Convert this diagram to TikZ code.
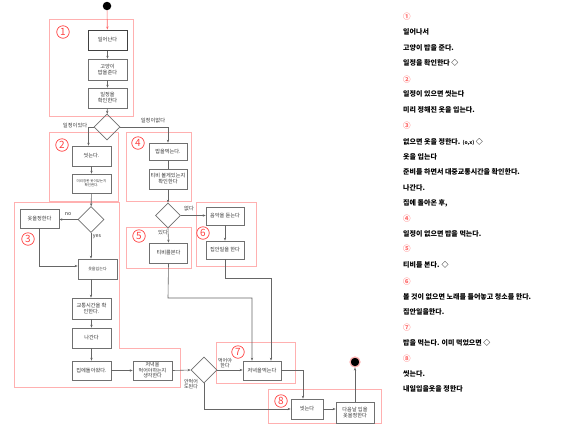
\documentclass[tikz,border=0pt]{standalone}
\usepackage{fontspec}
\setmainfont{Noto Sans CJK KR}
\usetikzlibrary{arrows.meta,shapes.geometric}
\definecolor{grpc}{HTML}{FFB0B0}
\definecolor{numc}{HTML}{FF4040}
\definecolor{listnum}{HTML}{FF6B6B}
\definecolor{edgec}{HTML}{666666}
\definecolor{boxc}{HTML}{707070}
\tikzset{
  box/.style={draw=boxc, line width=0.7pt, fill=white, inner sep=0pt, align=center,
    font=\fontsize{5.2}{6}\selectfont, text=black!80},
  dia/.style={draw=boxc, line width=0.7pt, diamond, aspect=1, inner sep=0pt, minimum width=26, minimum height=26},
  conn/.style={draw=edgec, line width=0.6pt, -{Stealth[length=3pt,width=2.4pt]}},
  plain/.style={draw=edgec, line width=0.6pt},
  grp/.style={draw=grpc, line width=0.8pt},
  num/.style={draw=numc, circle, line width=0.7pt, text=numc, inner sep=0pt, minimum size=12.5,
    font=\fontsize{10}{10}\selectfont},
  lbl/.style={font=\fontsize{5.3}{6}\selectfont, text=black!80, inner sep=0.5pt, align=center},
  item/.style={anchor=west, font=\fontsize{7}{8}\selectfont\bfseries, text=black, inner sep=0pt},
  inum/.style={anchor=west, font=\fontsize{7.5}{8}\selectfont\bfseries, text=listnum, inner sep=0pt}
}
\begin{document}
\begin{tikzpicture}[x=1pt,y=-1pt]
\useasboundingbox (0,0) rectangle (567,424);
% groups
\draw[grp] (49,19) rectangle (133,116);
\draw[grp] (49,132) rectangle (118,201);
\draw[grp] (14,202) -- (119,202) -- (119,348) -- (180,348) -- (180,387) -- (14,387) -- cycle;
\draw[grp] (126,132) rectangle (191,201);
\draw[grp] (126,227) rectangle (191,268);
\draw[grp] (196,202) rectangle (256,266);
\draw[grp] (216,342) rectangle (295,383);
\draw[grp] (268,389) rectangle (381,423);
\node[num] (n1) at (63,32) {1};
\node[num] (n2) at (62,145) {2};
\node[num] (n3) at (28,239) {3};
\node[num] (n4) at (138,143) {4};
\node[num] (n5) at (139,236) {5};
\node[num] (n6) at (203,233) {6};
\node[num] (n7) at (238,352) {7};
\node[num] (n8) at (281,401) {8};
% start / end
\node[circle, fill=black, minimum size=8.5, inner sep=0pt] (start) at (107,6) {};
\node[circle, fill=black, draw=grpc, line width=1.2pt, minimum size=10, inner sep=0pt] (end) at (355,362) {};
% boxes
\node[box, line width=1pt, draw=black!75, minimum width=39, minimum height=20] (b1) at (107.5,40) {일어난다};
\node[box, minimum width=39, minimum height=21] (b2) at (107.5,69.5) {고양이\\밥을준다};
\node[box, minimum width=39, minimum height=20] (b3) at (107.5,98) {일정을\\확인한다};
\node[dia] (d1) at (107,127) {};
\node[box, minimum width=39, minimum height=20] (b4) at (91.5,156) {씻는다.};
\node[box, minimum width=39, minimum height=19, font=\fontsize{3.5}{4.3}\selectfont] (b5) at (91.5,183.5) {미리정한 옷이있는지\\확인한다.};
\node[dia] (d2) at (91,219.5) {};
\node[box, minimum width=39, minimum height=19] (b6) at (39.5,218.5) {옷을정한다};
\node[box, minimum width=39, minimum height=20, font=\fontsize{4}{5}\selectfont] (b8) at (97.5,269) {옷을입는다};
\node[box, minimum width=39, minimum height=21] (b9) at (91.5,308.5) {교통시간을 확\\인한다.};
\node[box, minimum width=39, minimum height=20] (b10) at (91.5,338) {나간다};
\node[box, minimum width=39, minimum height=19] (b11) at (91.5,370.5) {집에돌아왔다.};
\node[box, minimum width=39, minimum height=19, font=\fontsize{5}{5.6}\selectfont] (b12) at (152.5,370.5) {저녁을\\먹어야하는지\\생각한다};
\node[dia] (d3) at (204,370) {};
\node[box, minimum width=38, minimum height=19] (b13) at (262,370.5) {저녁을먹는다};
\node[box, minimum width=32, minimum height=20] (b14) at (307,409) {씻는다};
\node[box, minimum width=38, minimum height=21] (b15) at (355,412.5) {다음날 입을\\옷을정한다};
\node[box, minimum width=38, minimum height=17] (b7) at (168,151.5) {밥을먹는다.};
\node[box, minimum width=38, minimum height=20] (b7b) at (168,179) {티비 볼게있는지\\확인한다};
\node[dia, minimum width=25, minimum height=25] (d4) at (168,215.5) {};
\node[box, minimum width=38, minimum height=20] (b18) at (168.5,253) {티비를본다};
\node[box, minimum width=38, minimum height=18] (b16) at (225,216) {음악을 듣는다};
\node[box, minimum width=38, minimum height=18] (b17) at (225,250) {집안일을 한다};
% connectors
\draw[conn, draw=numc!80] (start) -- (b1);
\draw[conn] (b1) -- (b2);
\draw[conn] (b2) -- (b3);
\draw[conn] (b3) -- (d1);
\draw[conn] (d1.west) -| ([xshift=-3]b4.north);
\draw[conn] (d1.east) -| (b7.north);
\draw[conn] (b4) -- (b5);
\draw[conn] (b5) -- (d2);
\draw[conn] (d2.west) -- (d2.west -| b6.east);
\draw[conn] (d2.south) -- (d2.south |- b8.north);
\draw[conn] (b6.south) |- ([yshift=3]b8.west);
\draw[conn] (d2.south |- b8.south) -- (d2.south |- b9.north);
\draw[conn] (b9) -- (b10);
\draw[conn] (b10) -- (b11);
\draw[conn] (b11) -- (b12);
\draw[conn] (b12.east) -- (d3.west);
\draw[conn] (d3.east) -- (d3.east -| b13.west);
\draw[conn] (d3.south) |- (b14.west);
\draw[conn] (b13.east) -| ([xshift=-4]b14.north);
\draw[conn] (b14.east) -- (b14.east -| b15.west);
\draw[conn] (b15.north) -- (end);
\draw[plain] (b7) -- (b7b);
\draw[conn] (b7b) -- (d4);
\draw[conn] (d4.east) -- (d4.east -| b16.west);
\draw[conn] (d4.south) -- (b18.north);
\draw[conn] (b16) -- (b17);
\coordinate (k1) at (225,278);
\coordinate (k2) at (168,298);
\draw[conn] (b17.south) -- (k1) -| ([xshift=9]b13.north);
\draw[conn] (b18.south) -- (k2) -| ([xshift=-10]b13.north);
% labels
\node[lbl, anchor=east] (l1) at (88,126) {일정이있다};
\node[lbl] (l2) at (153,121) {일정이없다};
\node[lbl] (l3) at (68,214) {no};
\node[lbl] (l4) at (97,237) {yes};
\node[lbl] (l5) at (189,209) {없다};
\node[lbl] (l6) at (163,233) {있다};
\node[lbl, font=\fontsize{5}{5.4}\selectfont] (l7) at (225,363) {먹어야\\한다};
\node[lbl, font=\fontsize{5}{5.4}\selectfont] (l8) at (191,384) {안먹어\\도된다};
% right list
\node[inum] (t1) at (403,17) {①};
\node[item] (t2) at (403,32) {일어나서};
\node[item] (t3) at (403,48) {고양이 밥을 준다.};
\node[item] (t4) at (403,63) {일정을 확인한다 ◇};
\node[inum] (t5) at (403,80) {②};
\node[item] (t6) at (403,94) {일정이 있으면 씻는다};
\node[item] (t7) at (403,110) {미리 정해진 옷을 입는다.};
\node[inum] (t8) at (403,126) {③};
\node[item] (t9) at (403,142) {없으면 옷을 정한다. {\fontsize{5}{6}\selectfont(o,x)} ◇};
\node[item] (t10) at (403,157) {옷을 입는다};
\node[item] (t11) at (403,172) {준비를 하면서 대중교통시간을 확인한다.};
\node[item] (t12) at (403,188) {나간다.};
\node[item] (t13) at (403,203) {집에 돌아온 후,};
\node[inum] (t14) at (403,219) {④};
\node[item] (t15) at (403,234) {일정이 없으면 밥을 먹는다.};
\node[inum] (t16) at (403,249) {⑤};
\node[item] (t17) at (403,265) {티비를 본다. ◇};
\node[inum] (t18) at (403,282) {⑥};
\node[item] (t19) at (403,297) {볼 것이 없으면 노래를 틀어놓고 청소를 한다.};
\node[item] (t20) at (403,312) {집안일을한다.};
\node[inum] (t21) at (403,328) {⑦};
\node[item] (t22) at (403,343) {밥을 먹는다. 이미 먹었으면 ◇};
\node[inum] (t23) at (403,359) {⑧};
\node[item] (t24) at (403,374) {씻는다.};
\node[item] (t25) at (403,389) {내일입을옷을 정한다};
\end{tikzpicture}
\end{document}
